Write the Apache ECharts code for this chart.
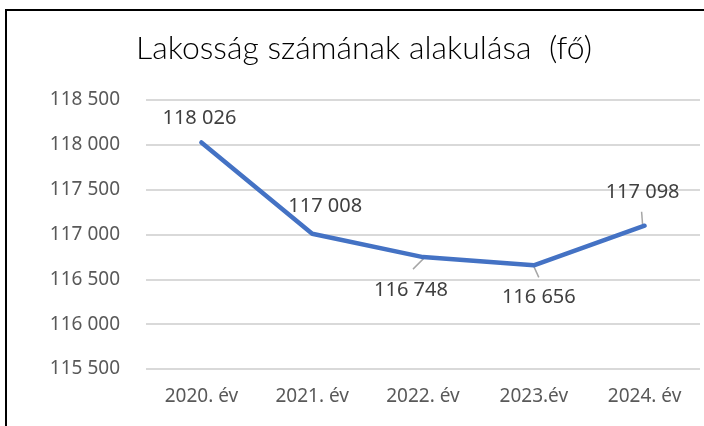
<!DOCTYPE html>
<html>
<head>
<meta charset="utf-8">
<script src="https://cdn.jsdelivr.net/npm/echarts@6/dist/echarts.min.js"></script>
<style>
  html, body { margin: 0; padding: 0; background: #fff; }
  #chart { width: 704px; height: 426px; }
</style>
</head>
<body>
<div id="chart"></div>
<script>
// Lakosság számának alakulása
const years = ['2020. év', '2021. év', '2022. év', '2023.év', '2024. év'];
const population = [118026, 117008, 116748, 116656, 117098];
const yTicks = [115500, 116000, 116500, 117000, 117500, 118000, 118500];

// label placement (pixel offset from point)
const labelOffsets = [[-2, -24], [13, -27], [-12, 33], [5, 32], [-2, -33]];
// leader line segments, pixel offsets from point: [from, to] or null
const leaderSegs = [null, null, [[1, 1], [-10, 12]], [[0, 1], [5, 12]], [[-2, -1], [-3, -14]]];

const fmt = v => String(v).replace(/\B(?=(\d{3})+(?!\d))/g, ' ');

const chart = echarts.init(document.getElementById('chart'));
chart.setOption({
  animation: false,
  textStyle: { fontFamily: 'Noto Sans' },
  title: {
    text: 'Lakosság számának alakulása  (fő)',
    left: 131,
    top: 28,
    textStyle: {
      fontFamily: 'Lato',
      fontWeight: 300,
      fontSize: 32,
      color: '#000'
    }
  },
  graphic: [{
    type: 'rect',
    shape: { x: 6, y: 10, width: 760, height: 480 },
    style: { fill: 'none', stroke: '#000', lineWidth: 2 },
    silent: true
  }],
  grid: {
    left: 146,
    right: 4,
    top: 100,
    bottom: 57,
    containLabel: false,
    outerBoundsMode: 'none'
  },
  xAxis: {
    type: 'category',
    data: years,
    boundaryGap: true,
    axisLine: { show: false },
    axisTick: { show: false },
    axisLabel: { color: '#595959', fontSize: 19, margin: 18 }
  },
  yAxis: {
    type: 'value',
    min: yTicks[0],
    max: yTicks[yTicks.length - 1],
    interval: 500,
    axisLine: { show: false },
    axisTick: { show: false },
    axisLabel: { color: '#595959', fontSize: 19, margin: 26, formatter: fmt },
    splitLine: { lineStyle: { color: '#d9d9d9', width: 2 } }
  },
  series: [{
    type: 'line',
    data: population.map((v, i) => ({
      value: v,
      label: { offset: labelOffsets[i] }
    })),
    symbol: 'circle',
    symbolSize: 1,
    itemStyle: { color: '#4472C4' },
    lineStyle: { color: '#4472C4', width: 4.5, cap: 'round', join: 'round' },
    label: {
      show: true,
      position: 'inside',
      color: '#404040',
      fontSize: 20,
      formatter: p => fmt(p.value)
    },
    z: 3
  }, {
    // leader lines from the points to their labels
    type: 'custom',
    data: population.map((v, i) => [i, v]),
    silent: true,
    z: 2,
    renderItem: (params, api) => {
      const seg = leaderSegs[params.dataIndex];
      if (!seg) return null;
      const p = api.coord([api.value(0), api.value(1)]);
      return {
        type: 'line',
        shape: {
          x1: p[0] + seg[0][0], y1: p[1] + seg[0][1],
          x2: p[0] + seg[1][0], y2: p[1] + seg[1][1]
        },
        style: { stroke: '#a6a6a6', lineWidth: 1.5 }
      };
    }
  }]
});
</script>
</body>
</html>
